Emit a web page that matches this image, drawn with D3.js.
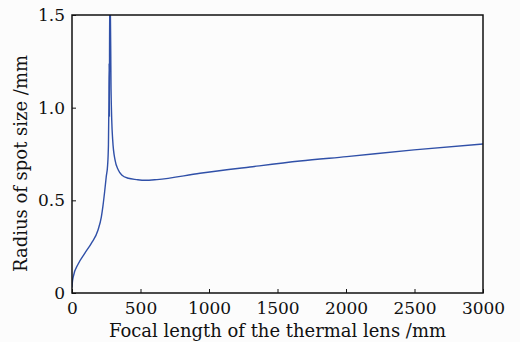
<!DOCTYPE html>
<html>
<head>
<meta charset="utf-8">
<script src="https://cdn.jsdelivr.net/npm/d3@7"></script>
<style>
  html, body { margin: 0; padding: 0; background: #fcfcfc; }
</style>
</head>
<body>
<svg id="chart" width="520" height="342"></svg>
<script>
// focal length of the thermal lens (mm)
const focal = [0, 3, 10, 44, 93, 141, 190, 214, 226, 238, 250, 260, 266, 269, 271, 273, 275,
  279, 285, 290, 297, 314, 338, 363, 411, 472, 533, 620, 934, 1299, 1664, 2005, 2496, 3000];
// radius of spot size (mm)
const radius = [0.03, 0.06, 0.09, 0.155, 0.214, 0.268, 0.34, 0.41, 0.47, 0.545, 0.628, 0.69, 0.8, 1.0, 1.24, 0.95, 1.6,
  1.6, 1.1, 0.934, 0.826, 0.718, 0.664, 0.637, 0.619, 0.612, 0.608, 0.612, 0.646, 0.68, 0.712, 0.736, 0.772, 0.804];

const xTicks = [0, 500, 1000, 1500, 2000, 2500, 3000];
const yTicks = [0, 0.5, 1.0, 1.5];
const yTickLabels = ["0", "0.5", "1.0", "1.5"];

const serif = "'DejaVu Serif', serif";
const margin = { left: 72, top: 15, right: 37, bottom: 49 };
const width = 520, height = 342;
const svg = d3.select("#chart");

const x = d3.scaleLinear().domain([0, 3000]).range([margin.left, width - margin.right]);
const y = d3.scaleLinear().domain([0, 1.5]).range([height - margin.bottom, margin.top]);

svg.append("defs").append("clipPath").attr("id", "plot")
  .append("rect")
  .attr("x", x(0)).attr("y", y(1.5))
  .attr("width", x(3000) - x(0)).attr("height", y(0) - y(1.5));

const pts = focal.map((f, i) => [f, radius[i]]);
const line = d3.line()
  .x(d => x(d[0]))
  .y(d => y(d[1]))
  .curve(d3.curveMonotoneX);

svg.append("path")
  .datum(pts)
  .attr("clip-path", "url(#plot)")
  .attr("fill", "none")
  .attr("stroke", "#3050a8")
  .attr("stroke-width", 1.4)
  .attr("d", line);

// bottom axis, ticks point inward
const xAxis = svg.append("g")
  .attr("transform", `translate(0,${y(0)})`)
  .call(d3.axisBottom(x).tickValues(xTicks).tickFormat(d3.format("d"))
    .tickSizeInner(-4).tickSizeOuter(0).tickPadding(9));
xAxis.attr("font-family", serif).attr("font-size", 17);
xAxis.select(".domain").remove();
xAxis.selectAll("line").attr("stroke", "#111");
xAxis.selectAll("text").attr("fill", "#111");

const yAxis = svg.append("g")
  .attr("transform", `translate(${x(0)},0)`)
  .call(d3.axisLeft(y).tickValues(yTicks).tickFormat((d, i) => yTickLabels[i])
    .tickSizeInner(-4).tickSizeOuter(0).tickPadding(7));
yAxis.attr("font-family", serif).attr("font-size", 17);
yAxis.select(".domain").remove();
yAxis.selectAll("line").attr("stroke", "#111");
yAxis.selectAll("text").attr("fill", "#111");

// frame
svg.append("rect")
  .attr("x", x(0)).attr("y", y(1.5))
  .attr("width", x(3000) - x(0)).attr("height", y(0) - y(1.5))
  .attr("fill", "none")
  .attr("stroke", "#111")
  .attr("stroke-width", 1.5);

svg.append("text")
  .attr("x", (x(0) + x(3000)) / 2)
  .attr("y", 337)
  .attr("text-anchor", "middle")
  .attr("font-family", serif)
  .attr("font-size", 19)
  .attr("fill", "#111")
  .attr("textLength", 337)
  .attr("lengthAdjust", "spacingAndGlyphs")
  .text("Focal length of the thermal lens /mm");

svg.append("text")
  .attr("transform", `translate(27,${(55 + 272) / 2}) rotate(-90)`)
  .attr("text-anchor", "middle")
  .attr("font-family", serif)
  .attr("font-size", 19)
  .attr("fill", "#111")
  .attr("textLength", 217)
  .attr("lengthAdjust", "spacingAndGlyphs")
  .text("Radius of spot size /mm");
</script>
</body>
</html>
